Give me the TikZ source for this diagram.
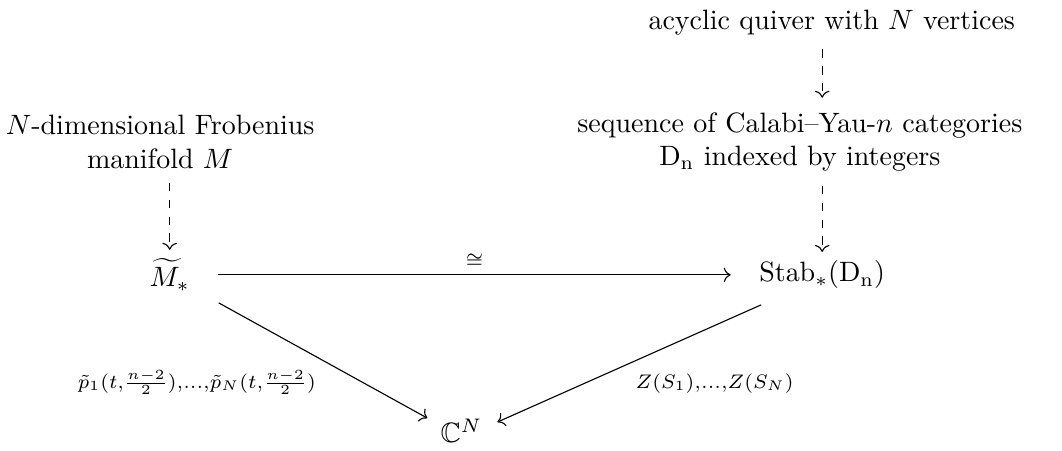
\documentclass[tikz,border=0pt]{standalone}
\usepackage{amsmath,amssymb}
\usepackage{tikz}
\usetikzlibrary{arrows.meta, positioning}

\begin{document}
\begin{tikzpicture}[
    obj/.style={align=center, inner sep=3pt},
    arr/.style={-To, line width=0.4pt},
    dasharr/.style={arr, dashed},
    lbl/.style={inner sep=1pt}
]
    \useasboundingbox (0,0) rectangle (13.33,-5.65);

    % upper row
    \node[obj] (quiver) at (10.44,-0.28) {acyclic quiver with $N$ vertices};
    \node[obj] (frob) at (2.01,-1.78) {$N$-dimensional Frobenius\\manifold $M$};
    \node[obj] (seq) at (10.04,-1.78) {sequence of Calabi--Yau-$n$ categories\\$\mathrm{D_n}$ indexed by integers};

    % main square
    \node[obj] (mtil) at (2.13,-3.45) {$\widetilde{M}_*$};
    \node[obj] (stab) at (10.32,-3.45) {$\mathrm{Stab}_*(\mathrm{D_n})$};
    \node[obj] (cn) at (5.79,-5.41) {$\mathbb{C}^N$};

    % dashed arrows
    \draw[dasharr] ([yshift=-2pt]mtil |- frob.south) -- (mtil);
    \draw[dasharr] ([yshift=-2pt]stab |- quiver.south) -- ([yshift=2pt]stab |- seq.north);
    \draw[dasharr] ([yshift=-2pt]stab |- seq.south) -- (stab);

    % solid arrows
    \draw[arr, shorten <=7pt, shorten >=7pt] (mtil) -- node[above, pos=0.50, inner sep=2.5pt] {$\scriptstyle\cong$} (stab);
    \draw[arr] ([shift={(17.5pt,-10pt)}]mtil.center) -- ([shift={(-12.1pt,4.6pt)}]cn.center);
    \draw[arr] ([shift={(-21.8pt,-10.7pt)}]stab.center) -- ([shift={(12.9pt,3.2pt)}]cn.center);

    % labels
    \node[lbl] (plab) at (2.47,-4.80) {$\scriptstyle\tilde{p}_1(t,\frac{n-2}{2}),...,\tilde{p}_N(t,\frac{n-2}{2})$};
    \node[lbl] (zlab) at (8.97,-4.81) {$\scriptstyle Z(S_1),...,Z(S_N)$};
\end{tikzpicture}
\end{document}
